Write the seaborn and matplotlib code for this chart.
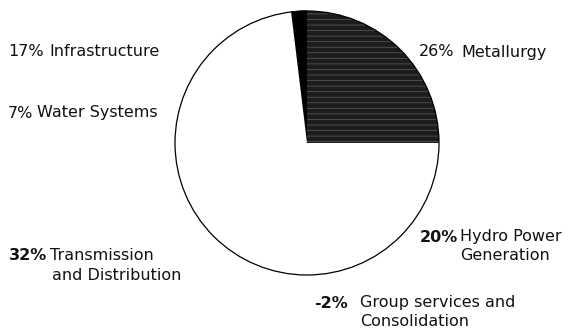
import numpy as np
import seaborn as sns
import matplotlib.pyplot as plt
from matplotlib.patches import Circle

# datos del grafico (orden horario desde arriba)
segmentos = ['Group services and\nConsolidation', 'Metallurgy', 'Hydro Power\nGeneration',
             'Transmission\nand Distribution', 'Water Systems', 'Infrastructure']
porcentajes = [-2, 26, 20, 32, 7, 17]
colores = ['black', '#1c1c1c', 'white', 'white', 'white', 'white']

sns.set_theme(style='white')
plt.rcParams['font.family'] = ['DejaVu Sans']
plt.rcParams['hatch.linewidth'] = 0.5

W, H = 573, 329
fig = plt.figure(figsize=(W / 100, H / 100), dpi=100)
ax = fig.add_axes([0, 0, 1, 1])

tam = np.abs(porcentajes)
inicio = 90 + 360 * tam[0] / tam.sum()
centro = (307, H - 143)
radio = 132

wedges, _ = ax.pie(tam, colors=colores, startangle=inicio, counterclock=False,
                   center=centro, radius=radio, frame=True,
                   wedgeprops=dict(linewidth=0))
ax.set_xlim(0, W)
ax.set_ylim(0, H)
ax.set_aspect('auto')
ax.axis('off')

# textura del sector oscuro
wedges[1].set_hatch('---')
wedges[1].set_edgecolor('#5e5e5e')
wedges[1].set_linewidth(0)
wedges[0].set_edgecolor('black')
wedges[0].set_linewidth(0.8)

ax.add_patch(Circle(centro, radio, fill=False, edgecolor='black', linewidth=0.9))

# etiquetas: (x porcentaje, x texto, y centro primera linea, negrita)
pos = {
    'Infrastructure': (8, 49, 51, False),
    'Water Systems': (8, 37, 113, False),
    'Metallurgy': (419, 461, 52, False),
    'Hydro Power\nGeneration': (420, 460, 237, True),
    'Transmission\nand Distribution': (9, 50, 256, True),
    'Group services and\nConsolidation': (314, 360, 303, True),
}
for nombre, pct in zip(segmentos, porcentajes):
    xp, xt, y, negrita = pos[nombre]
    ax.text(xp, H - y, f'{pct}%', fontsize=11.5, va='center', ha='left',
            fontweight='bold' if negrita else 'normal', color='#111111')
    lineas = nombre.split('\n')
    for i, linea in enumerate(lineas):
        dx = 2 if (i == 1 and 'Distribution' in linea) else 0
        ax.text(xt + dx, H - y - i * 19, linea, fontsize=11.5, va='center', ha='left',
                color='#111111')

plt.savefig('out.png', dpi=100)
